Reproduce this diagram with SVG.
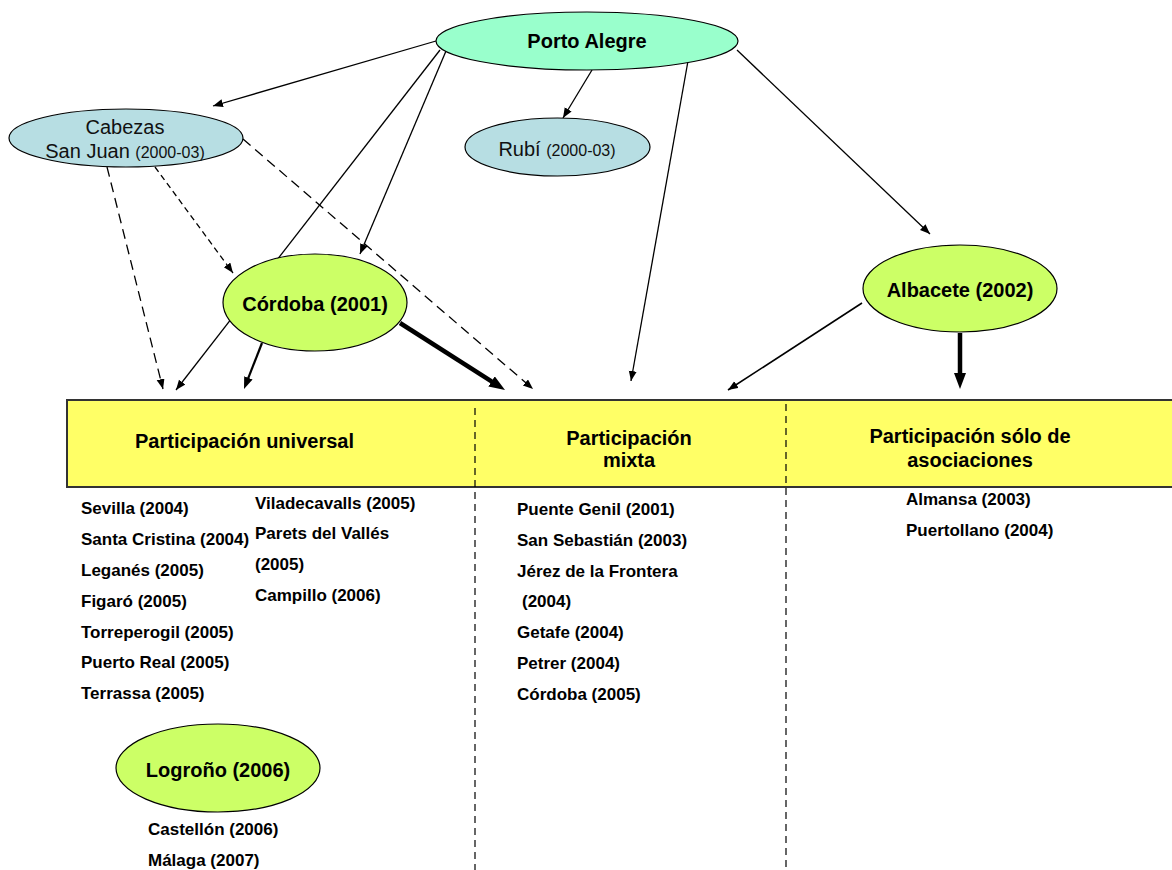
<svg xmlns="http://www.w3.org/2000/svg" width="1172" height="870" viewBox="0 0 1172 870">
<style>
.b{font-family:"Liberation Sans",Arial,sans-serif;font-weight:bold;fill:#000}
.r{font-family:"Liberation Sans",Arial,sans-serif;fill:#111}
.t20{font-size:20px}
.t17{font-size:17px}
.node{stroke:#000;stroke-width:1.2}
.pa{fill:#99FFCC}
.bl{fill:#B7DEE3}
.gr{fill:#CCFF66}
.ln{stroke:#000;fill:none;stroke-width:1.3}
.ln.m{stroke-width:2.2}
.ln.k{stroke-width:4.5}
.ln.s{stroke-width:1.6}
.dv{stroke:#000;stroke-width:1.2;stroke-dasharray:7 5}
</style>
<defs>
<marker id="arr" markerUnits="userSpaceOnUse" markerWidth="11" markerHeight="9" refX="10" refY="4" orient="auto"><path d="M0,0 L10,4 L0,8 z" fill="#000"/></marker>
<marker id="arrM" markerUnits="userSpaceOnUse" markerWidth="13" markerHeight="10" refX="6" refY="4.5" orient="auto"><path d="M0,0 L12,4.5 L0,9 z" fill="#000"/></marker>
<marker id="arrL" markerUnits="userSpaceOnUse" markerWidth="17" markerHeight="13" refX="6" refY="6" orient="auto"><path d="M0,0 L16,6 L0,12 z" fill="#000"/></marker>
</defs>
<rect width="1172" height="870" fill="#fff"/>

<g id="table">
<rect x="67" y="400" width="1120" height="87" fill="#FFFF66" stroke="#333" stroke-width="2"/>
<line class="dv" x1="475" y1="408" x2="475" y2="870"/>
<line class="dv" x1="786" y1="404" x2="786" y2="870"/>
<text class="b t20" x="135" y="448">Participación universal</text>
<text class="b t20" x="629" y="445" text-anchor="middle">Participación</text>
<text class="b t20" x="629" y="467" text-anchor="middle">mixta</text>
<text class="b t20" x="970" y="443" text-anchor="middle">Participación sólo de</text>
<text class="b t20" x="970" y="467" text-anchor="middle">asociaciones</text>
</g>

<g id="connectors">
<line class="ln" x1="436" y1="41" x2="213" y2="106" marker-end="url(#arr)"/>
<line class="ln" x1="592" y1="70" x2="563" y2="118" marker-end="url(#arr)"/>
<line class="ln" x1="446" y1="51" x2="360" y2="254" marker-end="url(#arr)"/>
<line class="ln" x1="440" y1="50" x2="176" y2="390" marker-end="url(#arr)"/>
<line class="ln" x1="688" y1="61" x2="631" y2="381" marker-end="url(#arr)"/>
<line class="ln" x1="737" y1="50" x2="930" y2="234" marker-end="url(#arr)"/>
<line class="ln s" x1="862" y1="303" x2="728" y2="390" marker-end="url(#arr)"/>
<line class="ln" x1="107" y1="167" x2="163" y2="389" stroke-dasharray="10 6" marker-end="url(#arr)"/>
<line class="ln" x1="155" y1="167" x2="233" y2="273" stroke-dasharray="6 4" marker-end="url(#arr)"/>
<line class="ln" x1="243" y1="139" x2="533" y2="389" stroke-dasharray="10 6" marker-end="url(#arr)"/>
<line class="ln m" x1="262" y1="343" x2="246.2" y2="383.4" marker-end="url(#arrM)"/>
<line class="ln k" x1="400" y1="323" x2="496.6" y2="384.6" marker-end="url(#arrL)"/>
<line class="ln k" x1="960" y1="333" x2="960" y2="379" marker-end="url(#arrL)"/>
</g>

<g id="porto-alegre">
<ellipse class="node pa" cx="587" cy="41" rx="151" ry="29"/>
<text class="b t20" x="587" y="48" text-anchor="middle">Porto Alegre</text>
</g>
<g id="cabezas">
<ellipse class="node bl" cx="126" cy="138" rx="117" ry="29"/>
<text class="r t20" x="125" y="134" text-anchor="middle">Cabezas</text>
<text class="r t20" x="125" y="158" text-anchor="middle">San Juan <tspan font-size="16">(2000-03)</tspan></text>
</g>
<g id="rubi">
<ellipse class="node bl" cx="557.5" cy="147" rx="92.5" ry="29"/>
<text class="r t20" x="557" y="156" text-anchor="middle">Rubí <tspan font-size="16">(2000-03)</tspan></text>
</g>
<g id="cordoba">
<ellipse class="node gr" cx="315" cy="302.5" rx="92" ry="48.5"/>
<text class="b t20" x="315" y="311" text-anchor="middle">Córdoba (2001)</text>
</g>
<g id="albacete">
<ellipse class="node gr" cx="960" cy="288.5" rx="97" ry="43.5"/>
<text class="b t20" x="960" y="297" text-anchor="middle">Albacete (2002)</text>
</g>
<g id="logrono">
<ellipse class="node gr" cx="218" cy="768" rx="102" ry="44"/>
<text class="b t20" x="218" y="777" text-anchor="middle">Logroño (2006)</text>
</g>

<g id="list-universal" class="b t17">
<text x="81" y="514">Sevilla (2004)</text>
<text x="81" y="545">Santa Cristina (2004)</text>
<text x="81" y="576">Leganés (2005)</text>
<text x="81" y="607">Figaró (2005)</text>
<text x="81" y="638">Torreperogil (2005)</text>
<text x="81" y="668">Puerto Real (2005)</text>
<text x="81" y="699">Terrassa (2005)</text>
<text x="255" y="509">Viladecavalls (2005)</text>
<text x="255" y="539">Parets del Vallés</text>
<text x="255" y="570">(2005)</text>
<text x="255" y="601">Campillo (2006)</text>
<text x="148" y="835">Castellón (2006)</text>
<text x="148" y="866">Málaga (2007)</text>
</g>
<g id="list-mixta" class="b t17">
<text x="517" y="515">Puente Genil (2001)</text>
<text x="517" y="546">San Sebastián (2003)</text>
<text x="517" y="577">Jérez de la Frontera</text>
<text x="522" y="607">(2004)</text>
<text x="517" y="638">Getafe (2004)</text>
<text x="517" y="669">Petrer (2004)</text>
<text x="517" y="700">Córdoba (2005)</text>
</g>
<g id="list-asociaciones" class="b t17">
<text x="906" y="505">Almansa (2003)</text>
<text x="906" y="536">Puertollano (2004)</text>
</g>
</svg>
